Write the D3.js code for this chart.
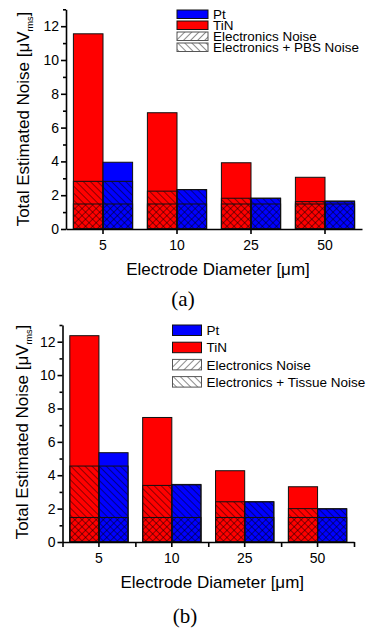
<!DOCTYPE html>
<meta charset="utf-8">
<style>
body { margin: 0; background: #fff; }
text { font-family: "Liberation Sans", Arial, sans-serif; fill: #000; }
.axis path, .axis line { stroke: #000; stroke-width: 1.6; }
.axis text { font-size: 14px; font-family: "Liberation Sans", Arial, sans-serif; }
.caption { font-family: "Liberation Serif", "Times New Roman", serif; font-size: 21px; }
</style>
<body>
<script src="https://d3js.org/d3.v7.min.js"></script>
<script>

var diameters = ["5", "10", "25", "50"];
var yTicks = [0, 2, 4, 6, 8, 10, 12];
var yMinor = [1, 3, 5, 7, 9, 11, 13];

// panel (a) - PBS
var tinA = [11.55, 6.88, 3.92, 3.06];
var ptA = [3.95, 2.33, 1.82, 1.66];
var elecTinA = [1.48, 1.48, 1.48, 1.48];
var elecPtA = [1.48, 1.48, 1.48, 1.48];
var pbsTinA = [2.82, 2.24, 1.82, 1.62];
var pbsPtA = [2.82, 2.33, 1.82, 1.62];

// panel (b) - tissue
var tinB = [12.36, 7.46, 4.27, 3.31];
var ptB = [5.35, 3.45, 2.41, 1.99];
var elecTinB = [1.47, 1.47, 1.47, 1.47];
var elecPtB = [1.47, 1.47, 1.47, 1.47];
var tissueTinB = [4.55, 3.39, 2.41, 2.0];
var tissuePtB = [4.55, 3.42, 2.41, 1.99];

var width = 367, height = 635;

var svg = d3.select("body").append("svg")
    .attr("width", width)
    .attr("height", height);

/*
  hatch patterns
*/
var defs = svg.append("defs");
[["fwd", 45], ["back", -45]].forEach(function(p) {
  defs.append("pattern")
      .attr("id", p[0])
      .attr("patternUnits", "userSpaceOnUse")
      .attr("width", 5)
      .attr("height", 5)
      .attr("patternTransform", "rotate(" + p[1] + ")")
    .append("line")
      .attr("x1", 0).attr("y1", 0)
      .attr("x2", 0).attr("y2", 5)
      .attr("stroke", "#000")
      .attr("stroke-width", 0.9);
});

function drawPanel(cfg) {
  var g = svg.append("g");

  var x = d3.scaleBand()
      .domain(diameters)
      .range([cfg.x0, cfg.x1])
      .paddingInner(0.2)
      .paddingOuter(0.1);

  var sub = d3.scaleBand()
      .domain(["TiN", "Pt"])
      .range([0, x.bandwidth()]);

  var y = d3.scaleLinear()
      .domain([0, 13])
      .range([cfg.yZero, cfg.yTop]);

  var rows = diameters.map(function(d, i) {
    return [
      { d: d, mat: "TiN", total: cfg.tin[i], elec: cfg.elecTin[i], mid: cfg.midTin[i], color: "#ff0000" },
      { d: d, mat: "Pt", total: cfg.pt[i], elec: cfg.elecPt[i], mid: cfg.midPt[i], color: "#0000ff" }
    ];
  });
  var bars = [].concat.apply([], rows);

  var bx = function(b) { return x(b.d) + sub(b.mat); };

  g.selectAll(".bar").data(bars).enter().append("rect")
      .attr("x", bx)
      .attr("y", function(b) { return y(b.total); })
      .attr("width", sub.bandwidth())
      .attr("height", function(b) { return y(0) - y(b.total); })
      .attr("fill", function(b) { return b.color; })
      .attr("stroke", "#111")
      .attr("stroke-width", 1);

  g.selectAll(".mid").data(bars).enter().append("rect")
      .attr("x", bx)
      .attr("y", function(b) { return y(Math.min(b.mid, b.total)); })
      .attr("width", sub.bandwidth())
      .attr("height", function(b) { return y(0) - y(Math.min(b.mid, b.total)); })
      .attr("fill", "url(#back)")
      .attr("stroke", "#111")
      .attr("stroke-width", 1);

  g.selectAll(".elec").data(bars).enter().append("rect")
      .attr("x", bx)
      .attr("y", function(b) { return y(b.elec); })
      .attr("width", sub.bandwidth())
      .attr("height", function(b) { return y(0) - y(b.elec); })
      .attr("fill", "url(#fwd)")
      .attr("stroke", "#111")
      .attr("stroke-width", 1);

  // axes
  g.append("g")
      .attr("class", "axis")
      .attr("transform", "translate(" + cfg.x0 + ",0)")
      .call(d3.axisLeft(y).tickValues(yMinor).tickSize(3).tickFormat(""))
      .call(function(a) { a.select(".domain").remove(); });

  g.append("g")
      .attr("class", "axis")
      .attr("transform", "translate(" + cfg.x0 + ",0)")
      .call(d3.axisLeft(y).tickValues(yTicks).tickSize(5).tickSizeOuter(0).tickPadding(2));

  if (cfg.edgeTicks) {
    var edge = d3.scaleLinear().domain([0, 4]).range([cfg.x0, cfg.x1]);
    g.append("g")
        .attr("class", "axis")
        .attr("transform", "translate(0," + cfg.yZero + ")")
        .call(d3.axisBottom(edge).tickValues([0, 1, 2, 3, 4]).tickSize(5).tickFormat(""))
        .call(function(a) { a.select(".domain").remove(); });
  }

  g.append("g")
      .attr("class", "axis")
      .attr("transform", "translate(0," + cfg.yZero + ")")
      .call(d3.axisBottom(x).tickSize(5).tickSizeOuter(0).tickPadding(6));

  // axis titles
  g.append("text")
      .attr("x", (cfg.x0 + cfg.x1) / 2 + 4)
      .attr("y", cfg.yZero + 46)
      .attr("text-anchor", "middle")
      .style("font-size", "17px")
      .text("Electrode Diameter [\u03bcm]");

  var yl = g.append("text")
      .attr("transform", "translate(" + cfg.yLabelX + "," + cfg.yLabelY + ") rotate(-90)")
      .attr("text-anchor", "middle")
      .style("font-size", "17px");
  yl.append("tspan").text("Total Estimated Noise [\u03bcV");
  yl.append("tspan").attr("dy", 4).style("font-size", "9px").text("rms");
  yl.append("tspan").attr("dy", -4).text("]");

  // legend
  var leg = g.append("g")
      .attr("transform", "translate(" + cfg.legX + "," + cfg.legY + ")");
  var items = [
    { label: "Pt", fill: "#0000ff", stroke: "#111" },
    { label: "TiN", fill: "#ff0000", stroke: "#111" },
    { label: "Electronics Noise", fill: "url(#fwd)", stroke: "#555" },
    { label: cfg.midLabel, fill: "url(#back)", stroke: "#555" }
  ];
  var li = leg.selectAll("g").data(items).enter().append("g")
      .attr("transform", function(d, i) { return "translate(0," + i * cfg.legStep + ")"; });
  li.append("rect")
      .attr("width", cfg.legW)
      .attr("height", cfg.legH)
      .attr("fill", function(d) { return d.fill; })
      .attr("stroke", function(d) { return d.stroke; })
      .attr("stroke-width", 1);
  li.append("text")
      .attr("transform", "translate(" + (cfg.legW + 5) + "," + (cfg.legH / 2) + ") scale(" + cfg.legStretch + ",1)")
      .attr("dy", "0.36em")
      .style("font-size", cfg.legFont)
      .text(function(d) { return d.label; });

  svg.append("text")
      .attr("class", "caption")
      .attr("x", cfg.capX)
      .attr("y", cfg.capY)
      .attr("text-anchor", "middle")
      .text(cfg.caption);
}

drawPanel({
  x0: 66, x1: 362, yZero: 229, yTop: 9.3,
  tin: tinA, pt: ptA, elecTin: elecTinA, elecPt: elecPtA, midTin: pbsTinA, midPt: pbsPtA,
  midLabel: "Electronics + PBS Noise",
  edgeTicks: false,
  yLabelX: 29, yLabelY: 119,
  legX: 177, legY: 10, legStep: 11, legW: 31, legH: 8.5, legFont: "12px", legStretch: 1.12,
  caption: "(a)", capX: 183, capY: 306
});

drawPanel({
  x0: 62.5, x1: 354, yZero: 542, yTop: 325,
  tin: tinB, pt: ptB, elecTin: elecTinB, elecPt: elecPtB, midTin: tissueTinB, midPt: tissuePtB,
  midLabel: "Electronics + Tissue Noise",
  edgeTicks: true,
  yLabelX: 28, yLabelY: 432,
  legX: 172.5, legY: 325, legStep: 17.2, legW: 29, legH: 10.5, legFont: "13.5px", legStretch: 1,
  caption: "(b)", capX: 185, capY: 623
});

</script>
